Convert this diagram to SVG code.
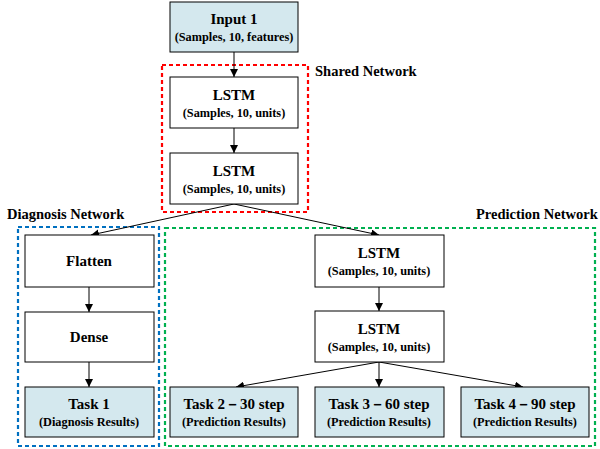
<svg xmlns="http://www.w3.org/2000/svg" width="600" height="449" viewBox="0 0 600 449">
  <style>
    text { font-family: 'Liberation Serif', 'DejaVu Serif', serif; font-weight: 700; fill: #000; }
    .box { fill: #ffffff; stroke: #000000; stroke-width: 1; }
    .io { fill: #d4e8ee; stroke: #000000; stroke-width: 1; }
    .t1 { font-size: 15px; text-anchor: middle; }
    .t2 { font-size: 12.3px; text-anchor: middle; }
    .lbl { font-size: 14.5px; }
    .grp { fill: none; stroke-width: 2.2; stroke-dasharray: 4 3; }
    .edge { fill: none; stroke: #000000; stroke-width: 1; marker-end: url(#arrow); }
  </style>
  <defs>
    <marker id="arrow" viewBox="0 0 10 10" refX="10" refY="5" markerWidth="8" markerHeight="8" markerUnits="userSpaceOnUse" orient="auto">
      <path d="M0,0 L10,5 L0,10 z" fill="#000"/>
    </marker>
  </defs>
  <rect width="600" height="449" fill="#ffffff"/>

  <!-- network groupings -->
  <g id="groups">
    <rect class="grp" x="162" y="65" width="146" height="147" stroke="#ff0000"/>
    <rect class="grp" x="18" y="227" width="141" height="219" stroke="#0070c0"/>
    <rect class="grp" x="165" y="228" width="430" height="218" stroke="#00b050"/>
    <text class="lbl" x="315" y="76">Shared Network</text>
    <text class="lbl" x="7" y="219">Diagnosis Network</text>
    <text class="lbl" x="476" y="219">Prediction Network</text>
  </g>

  <!-- connectors -->
  <g id="connectors">
    <line class="edge" x1="234" y1="52" x2="234" y2="77"/>
    <line class="edge" x1="234" y1="128" x2="234" y2="153"/>
    <line class="edge" x1="234" y1="204" x2="91" y2="235"/>
    <line class="edge" x1="234" y1="204" x2="379" y2="235"/>
    <line class="edge" x1="89" y1="287" x2="89" y2="312"/>
    <line class="edge" x1="89" y1="362" x2="89" y2="387"/>
    <line class="edge" x1="379" y1="287" x2="379" y2="311"/>
    <line class="edge" x1="379" y1="362" x2="236" y2="387"/>
    <line class="edge" x1="379" y1="362" x2="379" y2="387"/>
    <line class="edge" x1="379" y1="362" x2="523" y2="387"/>
  </g>

  <g id="input1">
    <rect class="io" x="170" y="2" width="128" height="50"/>
    <text class="t1" x="234" y="24">Input 1</text>
    <text class="t2" x="234" y="41">(Samples, 10, features)</text>
  </g>
  <g id="lstm1">
    <rect class="box" x="170" y="77" width="128" height="51"/>
    <text class="t1" x="234" y="100">LSTM</text>
    <text class="t2" x="234" y="117">(Samples, 10, units)</text>
  </g>
  <g id="lstm2">
    <rect class="box" x="170" y="153" width="128" height="51"/>
    <text class="t1" x="234" y="176">LSTM</text>
    <text class="t2" x="234" y="193">(Samples, 10, units)</text>
  </g>

  <g id="flatten">
    <rect class="box" x="25" y="235" width="129" height="52"/>
    <text class="t1" x="89" y="266">Flatten</text>
  </g>
  <g id="dense">
    <rect class="box" x="25" y="312" width="129" height="50"/>
    <text class="t1" x="89" y="342">Dense</text>
  </g>
  <g id="task1">
    <rect class="io" x="25" y="387" width="129" height="50"/>
    <text class="t1" x="89" y="409">Task 1</text>
    <text class="t2" x="89" y="426">(Diagnosis Results)</text>
  </g>

  <g id="lstm3">
    <rect class="box" x="315" y="235" width="129" height="52"/>
    <text class="t1" x="379" y="258">LSTM</text>
    <text class="t2" x="379" y="275">(Samples, 10, units)</text>
  </g>
  <g id="lstm4">
    <rect class="box" x="315" y="311" width="129" height="51"/>
    <text class="t1" x="379" y="334">LSTM</text>
    <text class="t2" x="379" y="351">(Samples, 10, units)</text>
  </g>

  <g id="task2">
    <rect class="io" x="170" y="387" width="128" height="50"/>
    <text class="t1" x="234" y="409">Task 2－30 step</text>
    <text class="t2" x="234" y="426">(Prediction Results)</text>
  </g>
  <g id="task3">
    <rect class="io" x="315" y="387" width="129" height="50"/>
    <text class="t1" x="379" y="409">Task 3－60 step</text>
    <text class="t2" x="379" y="426">(Prediction Results)</text>
  </g>
  <g id="task4">
    <rect class="io" x="461" y="387" width="128" height="50"/>
    <text class="t1" x="525" y="409">Task 4－90 step</text>
    <text class="t2" x="525" y="426">(Prediction Results)</text>
  </g>
</svg>
